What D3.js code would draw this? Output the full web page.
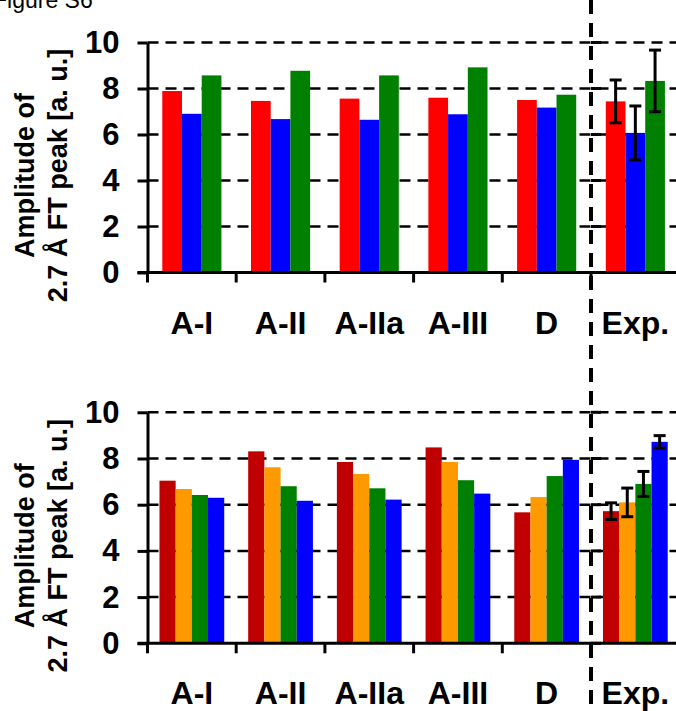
<!DOCTYPE html>
<html>
<head>
<meta charset="utf-8">
<script src="https://cdn.jsdelivr.net/npm/d3@7/dist/d3.min.js"></script>
<style>
  html, body { margin: 0; padding: 0; background: #fff; }
  svg { display: block; }
  text { font-family: Arial, "Liberation Sans", Helvetica, sans-serif; }
</style>
</head>
<body>
<script>
// Structure models and experiment
const categories = ["A-I", "A-II", "A-IIa", "A-III", "D", "Exp."];
const yTicks = [0, 2, 4, 6, 8, 10];
const yTitleLines = ["Amplitude of", "2.7 Å FT peak [a. u.]"];

// Upper panel: three series per category
const upperColors = ["#ff0000", "#0000ff", "#008000"];
const upperValues = [
  [7.89, 6.90, 8.57],
  [7.46, 6.67, 8.77],
  [7.56, 6.64, 8.57],
  [7.60, 6.88, 8.92],
  [7.50, 7.17, 7.73],
  [7.44, 6.07, 8.33]
];
// error bars only for the experimental group
const upperErrors = [null, null, null, null, null, [0.93, 1.17, 1.34]];

// Lower panel: four series per category
const lowerColors = ["#c00000", "#ff9900", "#008000", "#0000ff"];
const lowerValues = [
  [7.04, 6.68, 6.42, 6.30],
  [8.31, 7.62, 6.80, 6.17],
  [7.85, 7.33, 6.71, 6.22],
  [8.48, 7.85, 7.06, 6.48],
  [5.67, 6.33, 7.24, 7.94],
  [5.72, 6.10, 6.90, 8.72]
];
const lowerErrors = [null, null, null, null, null, [0.36, 0.62, 0.54, 0.27]];

const W = 676, H = 711;
const svg = d3.select("body").append("svg").attr("width", W).attr("height", H);

// figure caption in the corner
svg.append("text").attr("x", -7).attr("y", 8)
  .attr("font-size", 23).attr("fill", "#000").text("Figure S6");

const axisX = 147.5;
const x = d3.scaleBand().domain(categories).range([axisX, axisX + 6 * 88.7]).paddingInner(0).paddingOuter(0);

function panel(values, errors, colors, top, bottom, labelY) {
  const g = svg.append("g");
  const y = d3.scaleLinear().domain([0, 10]).range([bottom, top]);
  const inner = d3.scaleBand().domain(d3.range(colors.length))
    .range([0, x.bandwidth()]).paddingInner(0).paddingOuter(colors.length === 3 ? 0.75 : 0.74);

  // dashed grid
  g.append("g").selectAll("line").data(yTicks.filter(d => d > 0)).join("line")
    .attr("x1", axisX).attr("x2", W)
    .attr("y1", d => y(d)).attr("y2", d => y(d))
    .attr("stroke", "#000").attr("stroke-width", 2.5).attr("stroke-dasharray", "11,7");

  // bars
  const groups = g.append("g").selectAll("g").data(values).join("g")
    .attr("transform", (d, i) => `translate(${x(categories[i])},0)`);
  groups.selectAll("rect").data(d => d).join("rect")
    .attr("x", (d, j) => inner(j)).attr("width", inner.bandwidth())
    .attr("y", d => y(d)).attr("height", d => y(0) - y(d))
    .attr("fill", (d, j) => colors[j]);

  // error bars
  values.forEach((vals, i) => {
    const errs = errors[i];
    if (!errs) return;
    const eg = g.append("g").attr("transform", `translate(${x(categories[i])},0)`)
      .attr("stroke", "#000").attr("stroke-width", 3);
    vals.forEach((v, j) => {
      const cx = inner(j) + inner.bandwidth() / 2;
      const hi = y(v + errs[j]), lo = y(v - errs[j]);
      eg.append("line").attr("x1", cx).attr("x2", cx).attr("y1", hi).attr("y2", lo);
      eg.append("line").attr("x1", cx - 6).attr("x2", cx + 6).attr("y1", hi).attr("y2", hi);
      eg.append("line").attr("x1", cx - 6).attr("x2", cx + 6).attr("y1", lo).attr("y2", lo);
    });
  });

  // y axis
  const yAxis = g.append("g").attr("transform", `translate(${axisX},0)`)
    .call(d3.axisLeft(y).tickValues(yTicks).tickSize(10).tickSizeOuter(0).tickPadding(18));
  yAxis.select(".domain").attr("stroke-width", 3);
  yAxis.selectAll(".tick line").attr("stroke-width", 3);
  yAxis.selectAll(".tick text").attr("font-size", 31).attr("font-weight", "bold")
    .attr("fill", "#000").attr("font-family", "Arial, 'Liberation Sans', sans-serif");

  // secondary ticks of the experimental panel
  const xExp = x("Exp.");
  g.append("g").selectAll("line").data(yTicks).join("line")
    .attr("x1", xExp).attr("x2", xExp + 10)
    .attr("y1", d => y(d)).attr("y2", d => y(d))
    .attr("stroke", "#000").attr("stroke-width", 3);

  // category axis
  g.append("line").attr("x1", axisX - 10).attr("x2", W)
    .attr("y1", y(0)).attr("y2", y(0)).attr("stroke", "#000").attr("stroke-width", 3);
  g.append("g").selectAll("line").data(categories).join("line")
    .attr("x1", d => x(d)).attr("x2", d => x(d))
    .attr("y1", y(0)).attr("y2", y(0) + 10)
    .attr("stroke", "#000").attr("stroke-width", 3);
  g.append("g").selectAll("text").data(categories).join("text")
    .attr("x", d => x(d) + x.bandwidth() / 2).attr("y", labelY)
    .attr("text-anchor", "middle").attr("font-size", 32).attr("font-weight", "bold")
    .attr("fill", "#000").text(d => d);

  // y title
  const cy = (top + bottom) / 2 + 18;
  const title = g.append("g").attr("transform", `translate(0,${cy}) rotate(-90)`);
  title.append("text").attr("x", 0).attr("y", 34)
    .attr("text-anchor", "middle").attr("font-size", 27).attr("font-weight", "bold")
    .text(yTitleLines[0]);
  title.append("text").attr("x", 0).attr("y", 67)
    .attr("text-anchor", "middle").attr("font-size", 27).attr("font-weight", "bold")
    .text(yTitleLines[1]);
}

panel(upperValues, upperErrors, upperColors, 42.5, 272.5, 334);
panel(lowerValues, lowerErrors, lowerColors, 412.3, 643.3, 704);

// divider between models and experiment
svg.append("line")
  .attr("x1", x("Exp.")).attr("x2", x("Exp."))
  .attr("y1", 0).attr("y2", H)
  .attr("stroke", "#000").attr("stroke-width", 4).attr("stroke-dasharray", "14,9");
</script>
</body>
</html>
